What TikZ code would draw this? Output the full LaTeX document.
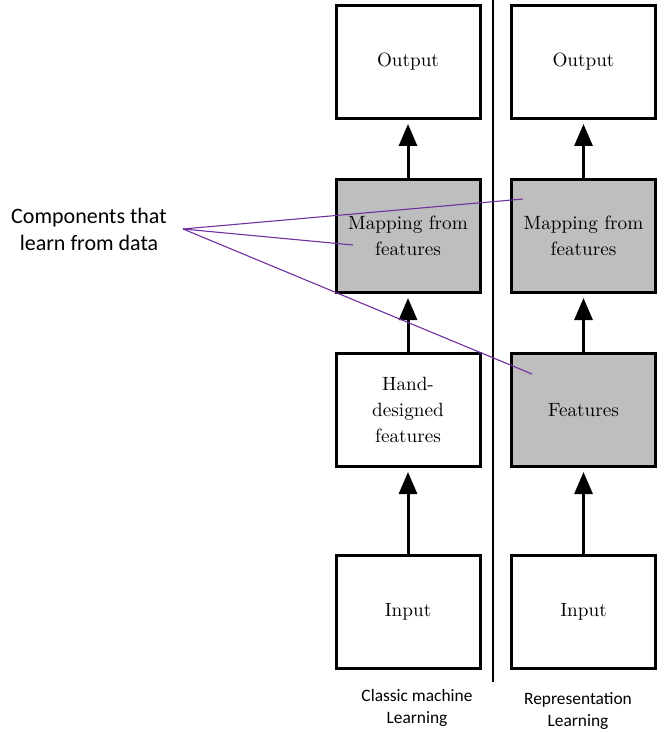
\documentclass[tikz,border=0pt]{standalone}
\usepackage{fontspec}
\newfontfamily\calfont{Carlito}
\usetikzlibrary{arrows.meta}
\definecolor{boxgray}{RGB}{190,190,190}
\definecolor{annpurple}{RGB}{112,48,160}
\tikzset{
  stagebox/.style={draw=black, line width=1.5pt, minimum width=72pt, minimum height=56.5pt,
    text width=68pt, align=center, inner sep=0pt, font=\fontsize{9.6}{13.2}\selectfont},
  learnbox/.style={stagebox, fill=boxgray},
  flowarrow/.style={line width=1.5pt, -{Triangle[length=11pt,width=9pt]}, shorten >=2pt},
  annline/.style={draw=annpurple, line width=0.55pt},
  sidelabel/.style={font=\calfont\fontsize{11}{13.5}\selectfont, align=center, inner sep=0pt},
  footlabel/.style={font=\calfont\fontsize{8.7}{11}\selectfont, align=center, inner sep=0pt}
}
\begin{document}
\begin{tikzpicture}[x=0.5pt,y=-0.5pt]
\useasboundingbox (0,0) rectangle (671,732);
% left column
\node[stagebox] (lout) at (408,62) {Output};
\node[learnbox] (lmap) at (408,236) {Mapping from\\features};
\node[stagebox] (lfeat) at (408,410) {Hand-\\designed\\features};
\node[stagebox] (lin) at (408,612) {Input};
% right column
\node[stagebox] (rout) at (583.5,62) {Output};
\node[learnbox] (rmap) at (583.5,236) {Mapping from\\features};
\node[learnbox] (rfeat) at (583.5,410) {Features};
\node[stagebox] (rin) at (583.5,612) {Input};
% arrows
\draw[flowarrow] (lmap.north) -- (lout.south);
\draw[flowarrow] (lfeat.north) -- (lmap.south);
\draw[flowarrow] (lin.north) -- (lfeat.south);
\draw[flowarrow] (rmap.north) -- (rout.south);
\draw[flowarrow] (rfeat.north) -- (rmap.south);
\draw[flowarrow] (rin.north) -- (rfeat.south);
% divider
\coordinate (dtop) at (493,0);
\coordinate (dbot) at (493,682);
\draw[line width=1pt] (dtop) -- (dbot);
% footer labels
\node[footlabel] (lcap) at (417,707.5) {Classic machine\\Learning};
\node[footlabel] (rcap) at (578,711) {Representation\\Learning};
% annotation
\node[sidelabel] (comp) at (89,229.5) {Components that\\learn from data};
\coordinate (src) at (183,229);
\coordinate (e1) at (523,199);
\coordinate (e2) at (353,245);
\coordinate (e3) at (532,374);
\draw[annline] (src) -- (e1);
\draw[annline] (src) -- (e2);
\draw[annline] (src) -- (e3);
\end{tikzpicture}
\end{document}
